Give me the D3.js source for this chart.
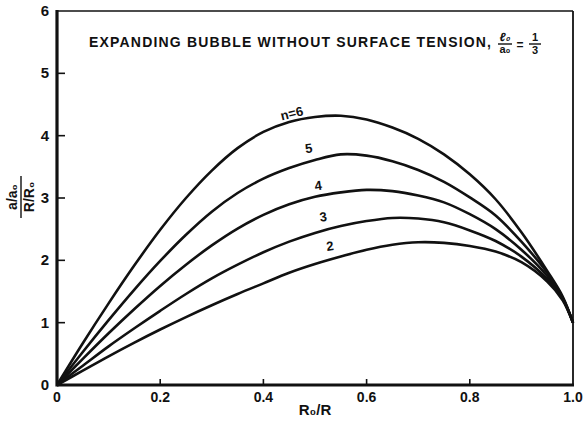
<!DOCTYPE html>
<html>
<head>
<meta charset="utf-8">
<script src="https://d3js.org/d3.v7.min.js"></script>
<style>
  body { margin: 0; background: #fff; }
  text { font-family: "Liberation Sans", Arial, sans-serif; fill: #111; }
</style>
</head>
<body>
<script>
// R0/R sample points shared by every curve
var xs = [0, 0.05, 0.1, 0.15, 0.2, 0.25, 0.3, 0.35, 0.4, 0.45, 0.5, 0.55, 0.6, 0.65, 0.7, 0.75, 0.8, 0.85, 0.9, 0.95, 0.98, 1.0];

// (a/a0)/(R/R0) for each n
var n6 = [0, 0.67, 1.31, 1.92, 2.49, 3.0, 3.44, 3.8, 4.06, 4.22, 4.3, 4.32, 4.26, 4.13, 3.95, 3.7, 3.38, 2.98, 2.45, 1.83, 1.42, 1.0];
var n5 = [0, 0.53, 1.04, 1.53, 1.99, 2.41, 2.78, 3.08, 3.31, 3.48, 3.61, 3.7, 3.68, 3.59, 3.45, 3.26, 3.01, 2.72, 2.3, 1.8, 1.4, 1.0];
var n4 = [0, 0.42, 0.83, 1.22, 1.59, 1.93, 2.24, 2.51, 2.73, 2.9, 3.02, 3.09, 3.13, 3.11, 3.04, 2.93, 2.74, 2.5, 2.17, 1.75, 1.39, 1.0];
var n3 = [0, 0.31, 0.62, 0.91, 1.19, 1.46, 1.71, 1.93, 2.13, 2.3, 2.44, 2.55, 2.63, 2.68, 2.67, 2.61, 2.48, 2.31, 2.06, 1.7, 1.38, 1.0];
var n2 = [0, 0.23, 0.46, 0.68, 0.89, 1.09, 1.28, 1.46, 1.63, 1.8, 1.94, 2.06, 2.17, 2.25, 2.29, 2.28, 2.23, 2.14, 1.97, 1.66, 1.36, 1.0];

var seriesNames = ["n=6", "5", "4", "3", "2"];
var seriesValues = [n6, n5, n4, n3, n2];
var labelX = [0.455, 0.488, 0.506, 0.516, 0.529];
var labelY = [4.36, 3.8, 3.2, 2.7, 2.23];
var labelRot = [-14, -8, -8, -8, -8];

var xTicks = [0.2, 0.4, 0.6, 0.8];
var xTickLabels = ["0", "0.2", "0.4", "0.6", "0.8", "1.0"];
var yTicks = [1, 2, 3, 4, 5];
var yTickLabels = ["0", "1", "2", "3", "4", "5", "6"];

var w = 584, h = 423;
var svg = d3.select("body").append("svg").attr("width", w).attr("height", h);

var x = d3.scaleLinear().domain([0, 1]).range([57, 573]);
var y = d3.scaleLinear().domain([0, 6]).range([385, 11]);

// frame
svg.append("line").attr("x1", x(0)).attr("x2", x(1)).attr("y1", y(6)).attr("y2", y(6))
    .attr("stroke", "#111").attr("stroke-width", 1.6);
svg.append("line").attr("x1", x(1)).attr("x2", x(1)).attr("y1", y(6)).attr("y2", y(0))
    .attr("stroke", "#111").attr("stroke-width", 1.8);
svg.append("line").attr("x1", x(0)).attr("x2", x(1) + 1).attr("y1", y(0)).attr("y2", y(0))
    .attr("stroke", "#111").attr("stroke-width", 3);
svg.append("line").attr("x1", x(0)).attr("x2", x(0)).attr("y1", y(6) - 1).attr("y2", y(0) + 1.5)
    .attr("stroke", "#111").attr("stroke-width", 3.2);

// inward ticks
svg.selectAll(".yt").data(yTicks).enter().append("line")
    .attr("x1", x(0)).attr("x2", x(0) + 8)
    .attr("y1", function (d) { return y(d); }).attr("y2", function (d) { return y(d); })
    .attr("stroke", "#111").attr("stroke-width", 1.6);
svg.selectAll(".xt").data(xTicks).enter().append("line")
    .attr("x1", function (d) { return x(d); }).attr("x2", function (d) { return x(d); })
    .attr("y1", y(0)).attr("y2", y(0) - 6)
    .attr("stroke", "#111").attr("stroke-width", 1.6);

// tick labels
svg.selectAll(".yl").data(yTickLabels).enter().append("text")
    .attr("x", x(0) - 8).attr("y", function (d, i) { return y(i) + 5; })
    .attr("text-anchor", "end").attr("font-size", 15).attr("font-weight", "bold")
    .text(function (d) { return d; });
svg.selectAll(".xl").data(xTickLabels).enter().append("text")
    .attr("x", function (d, i) { return x(i * 0.2); }).attr("y", 402)
    .attr("text-anchor", "middle").attr("font-size", 14).attr("font-weight", "bold")
    .text(function (d) { return d; });

// curves
var line = d3.line()
    .x(function (d, i) { return x(xs[i]); })
    .y(function (d) { return y(d); })
    .curve(d3.curveCatmullRom.alpha(0.5));
svg.selectAll(".curve").data(seriesValues).enter().append("path")
    .attr("d", line).attr("fill", "none")
    .attr("stroke", "#111").attr("stroke-width", 2.6);

// curve labels
svg.selectAll(".cl").data(seriesNames).enter().append("text")
    .attr("transform", function (d, i) {
        return "translate(" + x(labelX[i]) + "," + y(labelY[i]) + ") rotate(" + labelRot[i] + ")";
    })
    .attr("text-anchor", "middle").attr("dy", "0.35em")
    .attr("font-size", 13).attr("font-weight", "bold")
    .text(function (d) { return d; });

// title
svg.append("text").attr("x", 89).attr("y", 47)
    .attr("font-size", 14).attr("font-weight", "bold")
    .attr("textLength", 402).attr("lengthAdjust", "spacing")
    .text("EXPANDING BUBBLE WITHOUT SURFACE TENSION,");
var tf = svg.append("g").attr("transform", "translate(505,0)");
tf.append("text").attr("x", 0).attr("y", 41).attr("text-anchor", "middle")
    .attr("font-size", 12).attr("font-weight", "bold").attr("font-style", "italic").text("ℓ₀");
tf.append("line").attr("x1", -7).attr("x2", 7).attr("y1", 44).attr("y2", 44)
    .attr("stroke", "#111").attr("stroke-width", 1.4);
tf.append("text").attr("x", 0).attr("y", 53).attr("text-anchor", "middle")
    .attr("font-size", 11).attr("font-weight", "bold").text("a₀");
tf.append("text").attr("x", 15).attr("y", 49).attr("text-anchor", "middle")
    .attr("font-size", 12).attr("font-weight", "bold").text("=");
tf.append("text").attr("x", 30).attr("y", 41).attr("text-anchor", "middle")
    .attr("font-size", 11).attr("font-weight", "bold").text("1");
tf.append("line").attr("x1", 24).attr("x2", 36).attr("y1", 44).attr("y2", 44)
    .attr("stroke", "#111").attr("stroke-width", 1.4);
tf.append("text").attr("x", 30).attr("y", 54).attr("text-anchor", "middle")
    .attr("font-size", 11).attr("font-weight", "bold").text("3");

// y axis label: fraction, rotated
var yl = svg.append("g").attr("transform", "translate(21,197) rotate(-90)");
yl.append("text").attr("x", 0).attr("y", -4).attr("text-anchor", "middle")
    .attr("font-size", 14).attr("font-weight", "bold").text("a/a₀");
yl.append("line").attr("x1", -21).attr("x2", 21).attr("y1", 0).attr("y2", 0)
    .attr("stroke", "#111").attr("stroke-width", 1.4);
yl.append("text").attr("x", 0).attr("y", 13).attr("text-anchor", "middle")
    .attr("font-size", 14).attr("font-weight", "bold").text("R/R₀");

// x axis label
svg.append("text").attr("x", 315).attr("y", 415).attr("text-anchor", "middle")
    .attr("font-size", 15).attr("font-weight", "bold").text("R₀/R");
</script>
</body>
</html>
